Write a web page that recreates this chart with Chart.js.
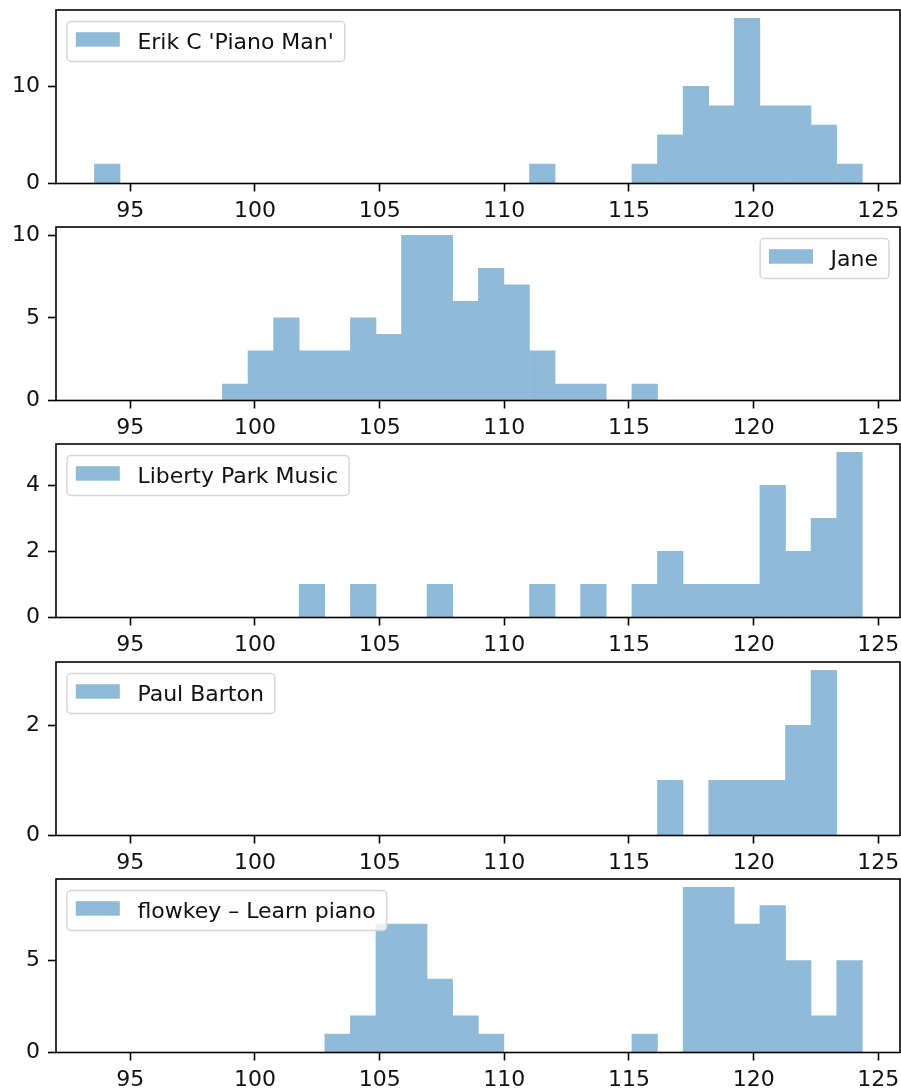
<!DOCTYPE html>
<html>
<head>
<meta charset="utf-8">
<script src="https://cdn.jsdelivr.net/npm/chart.js@4.4.1/dist/chart.umd.min.js"></script>
<style>
  html, body { margin: 0; padding: 0; background: #fff; }
  body { width: 901px; height: 1092px; position: relative; overflow: hidden; }
  .panel { position: absolute; left: 0; width: 901px; height: 225px; }
</style>
</head>
<body>
<div class="panel" style="top:0px"><canvas id="chart0"></canvas></div>
<div class="panel" style="top:217px"><canvas id="chart1"></canvas></div>
<div class="panel" style="top:434px"><canvas id="chart2"></canvas></div>
<div class="panel" style="top:652px"><canvas id="chart3"></canvas></div>
<div class="panel" style="top:869px"><canvas id="chart4"></canvas></div>
<script>
// histogram bin edges (30 bins, shared by all channels)
const binEdges = [93.56, 94.59, 95.61, 96.64, 97.67, 98.69, 99.72, 100.75, 101.77, 102.80,
  103.83, 104.85, 105.88, 106.90, 107.93, 108.96, 109.98, 111.01, 112.04, 113.06,
  114.09, 115.12, 116.14, 117.17, 118.20, 119.22, 120.25, 121.28, 122.30, 123.33, 124.36];

const channelNames = ["Erik C 'Piano Man'", "Jane", "Liberty Park Music", "Paul Barton", "flowkey – Learn piano"];

// counts per bin
const erikCounts    = [2,0,0,0,0,0,0,0,0,0, 0,0,0,0,0,0,0,2,0,0, 0,2,5,10,8,17,8,8,6,2];
const janeCounts    = [0,0,0,0,0,1,3,5,3,3, 5,4,10,10,6,8,7,3,1,1, 0,1,0,0,0,0,0,0,0,0];
const libertyCounts = [0,0,0,0,0,0,0,0,1,0, 1,0,0,1,0,0,0,1,0,1, 0,1,2,1,1,1,4,2,3,5];
const paulCounts    = [0,0,0,0,0,0,0,0,0,0, 0,0,0,0,0,0,0,0,0,0, 0,0,1,0,1,1,1,2,3,0];
const flowkeyCounts = [0,0,0,0,0,0,0,0,0,1, 2,7,7,4,2,1,0,0,0,0, 0,1,0,9,9,7,8,5,2,5];

const xTicks = [95, 100, 105, 110, 115, 120, 125];
const yTicks = [[0, 10], [0, 5, 10], [0, 2, 4], [0, 2], [0, 5]];
const legendSide = ['left', 'right', 'left', 'left', 'left'];

const allCounts = [erikCounts, janeCounts, libertyCounts, paulCounts, flowkeyCounts];
const FONT = '"DejaVu Sans", sans-serif';
const BAR_COLOR = '#8fbbd9'; // C0 at alpha 0.5 on white

const binCenters = binEdges.slice(0, -1).map((e, i) => (e + binEdges[i + 1]) / 2);

// axes frame + matplotlib-ish legend box
const framePlugin = {
  id: 'frame',
  afterDatasetsDraw(chart) {
    const a = chart.chartArea, ctx = chart.ctx;
    ctx.save();
    ctx.strokeStyle = '#000';
    ctx.lineWidth = 1.6;
    ctx.strokeRect(a.left, a.top, a.right - a.left, a.bottom - a.top);
    ctx.restore();
  },
  afterDraw(chart, args, opts) {
    const a = chart.chartArea, ctx = chart.ctx;
    ctx.save();
    ctx.font = '22px ' + FONT;
    const tw = ctx.measureText(opts.text).width;
    const w = 8.8 + 44 + 17.6 + tw + 11;
    const h = 40;
    const x = opts.side === 'right' ? a.right - 11 - w : a.left + 11;
    const y = a.top + 11.5;
    const r = 4;
    ctx.beginPath();
    ctx.moveTo(x + r, y);
    ctx.arcTo(x + w, y, x + w, y + h, r);
    ctx.arcTo(x + w, y + h, x, y + h, r);
    ctx.arcTo(x, y + h, x, y, r);
    ctx.arcTo(x, y, x + w, y, r);
    ctx.closePath();
    ctx.fillStyle = 'rgba(255,255,255,0.8)';
    ctx.fill();
    ctx.strokeStyle = '#d6d6d6';
    ctx.lineWidth = 1.5;
    ctx.stroke();
    ctx.fillStyle = BAR_COLOR;
    ctx.fillRect(x + 8.8, y + 10.7, 44, 14.5);
    ctx.fillStyle = '#111';
    ctx.textBaseline = 'alphabetic';
    ctx.fillText(opts.text, x + 8.8 + 44 + 17.6, y + 27.5);
    ctx.restore();
  }
};

function makeChart(i) {
  const counts = allCounts[i];
  const ymax = Math.max(...counts) * 1.05;
  const ctx = document.getElementById('chart' + i).getContext('2d');
  return new Chart(ctx, {
    type: 'bar',
    data: {
      datasets: [{
        label: channelNames[i],
        data: binCenters.map((c, k) => ({ x: c, y: counts[k] })),
        backgroundColor: BAR_COLOR,
        borderWidth: 0,
        barPercentage: 1,
        categoryPercentage: 1
      }]
    },
    options: {
      responsive: true,
      maintainAspectRatio: false,
      animation: false,
      layout: { padding: { top: 10, right: 1, left: 0, bottom: 0 } },
      plugins: {
        legend: { display: false },
        tooltip: { enabled: false },
        frame: { text: channelNames[i], side: legendSide[i] }
      },
      scales: {
        x: {
          type: 'linear',
          offset: false,
          min: 92.02,
          max: 125.87,
          afterBuildTicks: s => { s.ticks = xTicks.map(v => ({ value: v })); },
          afterFit: s => { s.height = 41.5; s.paddingLeft = 0; s.paddingRight = 0; },
          grid: { offset: false, drawOnChartArea: false, drawTicks: true, tickLength: 8, tickWidth: 1.6, tickColor: '#000' },
          border: { display: false },
          ticks: { autoSkip: false, maxRotation: 0, padding: 7, color: '#111', font: { family: FONT, size: 22 } }
        },
        y: {
          min: 0,
          max: ymax,
          afterBuildTicks: s => { s.ticks = yTicks[i].map(v => ({ value: v })); },
          afterFit: s => { s.width = 56; s.paddingTop = 0; s.paddingBottom = 0; },
          grid: { drawOnChartArea: false, drawTicks: true, tickLength: 8, tickWidth: 1.6, tickColor: '#000' },
          border: { display: false },
          ticks: { padding: 8, color: '#111', font: { family: FONT, size: 22 } }
        }
      }
    },
    plugins: [framePlugin]
  });
}

for (let i = 0; i < 5; i++) makeChart(i);
</script>
</body>
</html>
